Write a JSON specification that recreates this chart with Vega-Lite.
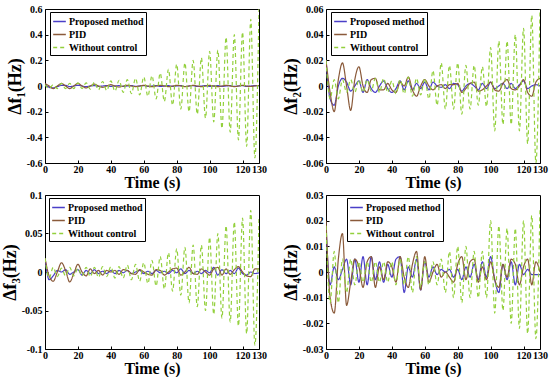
{
"$schema":"https://vega.github.io/schema/vega-lite/v6.json",
"padding":{"left":0,"top":3,"right":4,"bottom":0},
"background":"white",
"datasets":{
"f1":[
{"t":0,"P":0.01,"I":0.02,"W":0.01},{"t":2.5,"P":-0.01,"I":0,"W":-0.02},{"t":5,"P":-0.015,"I":-0.02,"W":0.01},{"t":7.5,"P":-0.005,"I":0,"W":-0.02},
{"t":10,"P":0.005,"I":0.02,"W":0.02},{"t":12.5,"P":0.005,"I":0,"W":-0.02},{"t":15,"P":-0.005,"I":-0.02,"W":0.02},{"t":17.5,"P":0,"I":0,"W":-0.02},
{"t":20,"P":0.005,"I":0.02,"W":0.025},{"t":22.5,"P":0,"I":0,"W":-0.02},{"t":25,"P":-0.005,"I":-0.015,"W":0.025},{"t":27.5,"P":0,"I":0,"W":-0.025},
{"t":30,"P":0.003,"I":0.015,"W":0.03},{"t":32.5,"P":-0.003,"I":0,"W":-0.03},{"t":35,"P":0,"I":-0.01,"W":0.035},{"t":37.5,"P":0.003,"I":0,"W":-0.035},
{"t":40,"P":-0.003,"I":0.01,"W":0.04},{"t":42.5,"P":0,"I":0,"W":-0.04},{"t":45,"P":0.003,"I":-0.008,"W":0.045},{"t":47.5,"P":-0.003,"I":0,"W":-0.05},
{"t":50,"P":0,"I":0.006,"W":0.05},{"t":52.5,"P":0.003,"I":0,"W":-0.06},{"t":55,"P":-0.003,"I":-0.005,"W":0.06},{"t":57.5,"P":0,"I":0,"W":-0.07},
{"t":60,"P":0.003,"I":0.005,"W":0.07},{"t":62.5,"P":-0.003,"I":0,"W":-0.08},{"t":65,"P":0,"I":-0.005,"W":0.08},{"t":67.5,"P":0.003,"I":0,"W":-0.1},
{"t":70,"P":-0.003,"I":0.005,"W":0.1},{"t":72.5,"P":0,"I":0,"W":-0.12},{"t":75,"P":0.003,"I":-0.005,"W":0.13},{"t":77.5,"P":-0.003,"I":0,"W":-0.15},
{"t":80,"P":0,"I":0.005,"W":0.17},{"t":82.5,"P":0.003,"I":0,"W":-0.18},{"t":85,"P":-0.004,"I":-0.005,"W":0.18},{"t":87.5,"P":0,"I":0,"W":-0.2},
{"t":90,"P":0.003,"I":0.005,"W":0.2},{"t":92.5,"P":-0.003,"I":0,"W":-0.22},{"t":95,"P":0,"I":-0.005,"W":0.22},{"t":97.5,"P":0.003,"I":0,"W":-0.25},
{"t":100,"P":-0.003,"I":0.005,"W":0.27},{"t":102.5,"P":0,"I":0,"W":-0.28},{"t":105,"P":0.003,"I":-0.005,"W":0.28},{"t":107.5,"P":-0.003,"I":0,"W":-0.33},
{"t":110,"P":0,"I":0.005,"W":0.38},{"t":112.5,"P":0.003,"I":0,"W":-0.36},{"t":115,"P":-0.003,"I":-0.005,"W":0.4},{"t":117.5,"P":0,"I":0,"W":-0.42},
{"t":120,"P":0.003,"I":0.005,"W":0.42},{"t":122.5,"P":-0.003,"I":0,"W":-0.47},{"t":125,"P":0,"I":-0.004,"W":0.52},{"t":127.5,"P":0.003,"I":0,"W":-0.56},
{"t":130,"P":0,"I":0.004,"W":0.6}
],
"f2":[
{"t":0,"P":0.02,"I":0.02,"W":0.02},{"t":2.5,"P":-0.01,"I":-0.005,"W":-0.01},{"t":5,"P":-0.015,"I":-0.02,"W":0.005},{"t":7.5,"P":0,"I":0.005,"W":-0.01},
{"t":10,"P":0.006,"I":0.018,"W":0.005},{"t":12.5,"P":0.003,"I":0,"W":-0.005},{"t":15,"P":-0.004,"I":-0.019,"W":0.005},{"t":17.5,"P":0,"I":0.005,"W":-0.005},
{"t":20,"P":0.004,"I":0.015,"W":0.005},{"t":22.5,"P":-0.005,"I":0,"W":-0.005},{"t":25,"P":0.005,"I":-0.005,"W":0.005},{"t":27.5,"P":-0.002,"I":0.005,"W":-0.004},
{"t":30,"P":-0.005,"I":0.006,"W":0.006},{"t":32.5,"P":0,"I":-0.003,"W":-0.005},{"t":35,"P":0.004,"I":-0.003,"W":0.006},{"t":37.5,"P":-0.002,"I":0.002,"W":-0.005},
{"t":40,"P":-0.005,"I":-0.003,"W":0.004},{"t":42.5,"P":-0.002,"I":-0.005,"W":-0.006},{"t":45,"P":0.004,"I":0.003,"W":0.005},{"t":47.5,"P":-0.003,"I":0,"W":-0.006},
{"t":50,"P":0.004,"I":0.007,"W":0.007},{"t":52.5,"P":-0.003,"I":-0.003,"W":-0.008},{"t":55,"P":0.002,"I":-0.008,"W":0.006},{"t":57.5,"P":-0.002,"I":0,"W":-0.007},
{"t":60,"P":0.003,"I":0.005,"W":0.006},{"t":62.5,"P":-0.003,"I":0,"W":-0.01},{"t":65,"P":0.003,"I":-0.003,"W":0.012},{"t":67.5,"P":0,"I":0,"W":-0.015},
{"t":70,"P":-0.001,"I":0.001,"W":0.018},{"t":72.5,"P":0.001,"I":-0.002,"W":-0.018},{"t":75,"P":-0.002,"I":0.001,"W":0.016},{"t":77.5,"P":0.002,"I":0.001,"W":-0.018},
{"t":80,"P":0.001,"I":0.002,"W":0.018},{"t":82.5,"P":-0.004,"I":-0.005,"W":-0.022},{"t":85,"P":0,"I":-0.002,"W":0.016},{"t":87.5,"P":0.002,"I":0.002,"W":-0.018},
{"t":90,"P":0,"I":0.003,"W":0.016},{"t":92.5,"P":-0.003,"I":-0.004,"W":-0.015},{"t":95,"P":0.002,"I":-0.003,"W":0.015},{"t":97.5,"P":-0.002,"I":0,"W":-0.016},
{"t":100,"P":0.003,"I":0.003,"W":0.03},{"t":102.5,"P":-0.002,"I":-0.003,"W":-0.035},{"t":105,"P":0,"I":-0.004,"W":0.035},{"t":107.5,"P":0.002,"I":0.002,"W":-0.03},
{"t":110,"P":-0.002,"I":0.005,"W":0.035},{"t":112.5,"P":0.002,"I":-0.002,"W":-0.03},{"t":115,"P":-0.002,"I":-0.003,"W":0.04},{"t":117.5,"P":0.001,"I":0,"W":-0.035},
{"t":120,"P":0.004,"I":0.005,"W":0.045},{"t":122.5,"P":-0.002,"I":-0.005,"W":-0.045},{"t":125,"P":0,"I":-0.008,"W":0.055},{"t":127.5,"P":0.001,"I":0.003,"W":-0.06},
{"t":130,"P":0,"I":0.006,"W":0.06}
],
"f3":[
{"t":0,"P":0.018,"I":0.018,"W":0.018},{"t":2.5,"P":-0.01,"I":-0.005,"W":-0.008},{"t":5,"P":-0.005,"I":-0.012,"W":0.006},{"t":7.5,"P":0.002,"I":0,"W":-0.006},
{"t":10,"P":0,"I":0.012,"W":0.005},{"t":12.5,"P":0.003,"I":0.002,"W":-0.005},{"t":15,"P":-0.003,"I":-0.013,"W":0.006},{"t":17.5,"P":0,"I":-0.002,"W":-0.005},
{"t":20,"P":0.003,"I":0.01,"W":0.005},{"t":22.5,"P":-0.004,"I":0,"W":-0.005},{"t":25,"P":0.002,"I":-0.005,"W":0.006},{"t":27.5,"P":-0.002,"I":0.004,"W":-0.006},
{"t":30,"P":0.003,"I":-0.002,"W":0.006},{"t":32.5,"P":-0.002,"I":0.002,"W":-0.007},{"t":35,"P":0.001,"I":-0.004,"W":0.007},{"t":37.5,"P":-0.002,"I":0.002,"W":-0.006},
{"t":40,"P":0.002,"I":0,"W":0.007},{"t":42.5,"P":-0.002,"I":0.002,"W":-0.008},{"t":45,"P":0.002,"I":-0.003,"W":0.007},{"t":47.5,"P":-0.001,"I":0.003,"W":-0.008},
{"t":50,"P":0.002,"I":0.002,"W":0.009},{"t":52.5,"P":-0.002,"I":-0.002,"W":-0.01},{"t":55,"P":0,"I":-0.003,"W":0.01},{"t":57.5,"P":0.002,"I":0.003,"W":-0.012},
{"t":60,"P":-0.002,"I":0,"W":0.012},{"t":62.5,"P":0.001,"I":-0.003,"W":-0.015},{"t":65,"P":-0.002,"I":-0.004,"W":0.015},{"t":67.5,"P":0.002,"I":0.003,"W":-0.018},
{"t":70,"P":-0.001,"I":0.002,"W":0.02},{"t":72.5,"P":0.001,"I":-0.004,"W":-0.022},{"t":75,"P":-0.002,"I":0,"W":0.025},{"t":77.5,"P":0.002,"I":0.004,"W":-0.025},
{"t":80,"P":-0.001,"I":0.005,"W":0.03},{"t":82.5,"P":0.004,"I":-0.004,"W":-0.03},{"t":85,"P":-0.002,"I":0,"W":0.032},{"t":87.5,"P":0.002,"I":0.006,"W":-0.04},
{"t":90,"P":-0.002,"I":-0.002,"W":0.035},{"t":92.5,"P":0.001,"I":-0.003,"W":-0.045},{"t":95,"P":-0.002,"I":0.004,"W":0.035},{"t":97.5,"P":0.002,"I":0,"W":-0.05},
{"t":100,"P":-0.001,"I":-0.004,"W":0.045},{"t":102.5,"P":0.006,"I":0.004,"W":-0.055},{"t":105,"P":-0.004,"I":0.006,"W":0.05},{"t":107.5,"P":0.003,"I":-0.004,"W":-0.06},
{"t":110,"P":-0.002,"I":0.004,"W":0.06},{"t":112.5,"P":0.002,"I":-0.003,"W":-0.065},{"t":115,"P":-0.002,"I":0.003,"W":0.065},{"t":117.5,"P":0.005,"I":0.007,"W":-0.07},
{"t":120,"P":-0.002,"I":0,"W":0.07},{"t":122.5,"P":-0.004,"I":-0.005,"W":-0.08},{"t":125,"P":0,"I":-0.006,"W":0.08},{"t":127.5,"P":-0.002,"I":0.004,"W":-0.095},
{"t":130,"P":-0.001,"I":0.004,"W":0.07}
],
"f4":[
{"t":0,"P":0.018,"I":0.02,"W":0.018},{"t":2.5,"P":-0.005,"I":-0.01,"W":-0.012},{"t":5,"P":0.002,"I":-0.016,"W":0.008},{"t":7.5,"P":-0.003,"I":0.005,"W":-0.012},
{"t":10,"P":0.001,"I":0.015,"W":0.005},{"t":12.5,"P":0.005,"I":-0.013,"W":-0.008},{"t":15,"P":-0.005,"I":-0.004,"W":0.005},{"t":17.5,"P":0.005,"I":0.005,"W":-0.005},
{"t":20,"P":-0.004,"I":0.002,"W":0.004},{"t":22.5,"P":0.006,"I":-0.006,"W":-0.004},{"t":25,"P":-0.005,"I":0.004,"W":0.004},{"t":27.5,"P":0.006,"I":0.006,"W":-0.004},
{"t":30,"P":-0.003,"I":-0.006,"W":0.004},{"t":32.5,"P":0.004,"I":0.002,"W":-0.004},{"t":35,"P":-0.004,"I":-0.003,"W":0.004},{"t":37.5,"P":0.003,"I":0.004,"W":-0.004},
{"t":40,"P":-0.002,"I":0.002,"W":0.004},{"t":42.5,"P":0.005,"I":-0.004,"W":-0.005},{"t":45,"P":0.006,"I":0.006,"W":0.005},{"t":47.5,"P":-0.008,"I":-0.002,"W":-0.005},
{"t":50,"P":0.002,"I":-0.006,"W":0.006},{"t":52.5,"P":-0.002,"I":0.003,"W":-0.008},{"t":55,"P":0.005,"I":0.008,"W":0.006},{"t":57.5,"P":-0.007,"I":-0.007,"W":-0.006},
{"t":60,"P":0.004,"I":0.006,"W":0.004},{"t":62.5,"P":-0.002,"I":-0.004,"W":-0.005},{"t":65,"P":0.002,"I":0,"W":0.004},{"t":67.5,"P":-0.001,"I":0.003,"W":-0.005},
{"t":70,"P":0.001,"I":-0.002,"W":0.005},{"t":72.5,"P":0,"I":0,"W":-0.008},{"t":75,"P":0.001,"I":-0.002,"W":0.008},{"t":77.5,"P":-0.002,"I":-0.004,"W":-0.01},
{"t":80,"P":0.001,"I":0.003,"W":0.01},{"t":82.5,"P":-0.003,"I":0.006,"W":-0.012},{"t":85,"P":0.002,"I":-0.003,"W":0.01},{"t":87.5,"P":-0.002,"I":0.004,"W":-0.01},
{"t":90,"P":0.003,"I":0.005,"W":0.008},{"t":92.5,"P":-0.003,"I":-0.004,"W":-0.01},{"t":95,"P":0.004,"I":0.002,"W":0.008},{"t":97.5,"P":-0.002,"I":-0.003,"W":-0.01},
{"t":100,"P":0.006,"I":0.004,"W":0.02},{"t":102.5,"P":-0.003,"I":-0.003,"W":-0.016},{"t":105,"P":-0.008,"I":-0.006,"W":0.018},{"t":107.5,"P":0.003,"I":0.003,"W":-0.015},
{"t":110,"P":-0.003,"I":-0.002,"W":0.017},{"t":112.5,"P":0.004,"I":0.005,"W":-0.02},{"t":115,"P":-0.005,"I":0.003,"W":0.017},{"t":117.5,"P":0.003,"I":-0.005,"W":-0.022},
{"t":120,"P":-0.001,"I":0.002,"W":0.02},{"t":122.5,"P":0.001,"I":0.005,"W":-0.024},{"t":125,"P":-0.001,"I":-0.005,"W":0.022},{"t":127.5,"P":-0.001,"I":0.004,"W":-0.026},
{"t":130,"P":-0.001,"I":0,"W":0.025}
]
},
"columns":2,
"spacing":{"column":14,"row":-2},
"resolve":{"scale":{"color":"independent","strokeDash":"independent"},"legend":{"color":"independent","strokeDash":"independent"}},
"concat":[
{"width":214,"height":154,"data":{"name":"f1"},
 "transform":[{"fold":["P","I","W"],"as":["s","v"]}],
 "mark":{"type":"line","interpolate":"monotone","strokeWidth":1.2,"clip":true},
 "encoding":{
  "x":{"field":"t","type":"quantitative","scale":{"domain":[0,130],"nice":false,"zero":false},"axis":{"values":[0,20,40,60,80,100,120,130],"title":"Time (s)"}},
  "y":{"field":"v","type":"quantitative","scale":{"domain":[-0.6,0.6],"nice":false},"axis":{"values":[-0.6,-0.4,-0.2,0,0.2,0.4,0.6],"title":"Δf₁(Hz)"}},
  "color":{"field":"s","type":"nominal","title":null,"scale":{"domain":["P","I","W"],"range":["#4a3fc8","#8a5a3a","#93d03c"]},"legend":{"legendX":5,"legendY":3,"labelExpr":"datum.label=='P'?'Proposed method':datum.label=='I'?'PID':'Without control'"}},
  "strokeDash":{"field":"s","type":"nominal","title":null,"scale":{"domain":["P","I","W"],"range":[[1,0],[1,0],[4,3]]},"legend":{"legendX":5,"legendY":3,"labelExpr":"datum.label=='P'?'Proposed method':datum.label=='I'?'PID':'Without control'"}}
 }},
{"width":214,"height":154,"data":{"name":"f2"},
 "transform":[{"fold":["P","I","W"],"as":["s","v"]}],
 "mark":{"type":"line","interpolate":"monotone","strokeWidth":1.2,"clip":true},
 "encoding":{
  "x":{"field":"t","type":"quantitative","scale":{"domain":[0,130],"nice":false,"zero":false},"axis":{"values":[0,20,40,60,80,100,120,130],"title":"Time (s)"}},
  "y":{"field":"v","type":"quantitative","scale":{"domain":[-0.06,0.06],"nice":false},"axis":{"values":[-0.06,-0.04,-0.02,0,0.02,0.04,0.06],"title":"Δf₂(Hz)"}},
  "color":{"field":"s","type":"nominal","title":null,"scale":{"domain":["P","I","W"],"range":["#4a3fc8","#8a5a3a","#93d03c"]},"legend":{"legendX":5,"legendY":3,"labelExpr":"datum.label=='P'?'Proposed method':datum.label=='I'?'PID':'Without control'"}},
  "strokeDash":{"field":"s","type":"nominal","title":null,"scale":{"domain":["P","I","W"],"range":[[1,0],[1,0],[4,3]]},"legend":{"legendX":5,"legendY":3,"labelExpr":"datum.label=='P'?'Proposed method':datum.label=='I'?'PID':'Without control'"}}
 }},
{"width":214,"height":154,"data":{"name":"f3"},
 "transform":[{"fold":["P","I","W"],"as":["s","v"]}],
 "mark":{"type":"line","interpolate":"monotone","strokeWidth":1.2,"clip":true},
 "encoding":{
  "x":{"field":"t","type":"quantitative","scale":{"domain":[0,130],"nice":false,"zero":false},"axis":{"values":[0,20,40,60,80,100,120,130],"title":"Time (s)"}},
  "y":{"field":"v","type":"quantitative","scale":{"domain":[-0.1,0.1],"nice":false},"axis":{"values":[-0.1,-0.05,0,0.05,0.1],"title":"Δf₃(Hz)"}},
  "color":{"field":"s","type":"nominal","title":null,"scale":{"domain":["P","I","W"],"range":["#4a3fc8","#8a5a3a","#93d03c"]},"legend":{"legendX":4,"legendY":3,"labelExpr":"datum.label=='P'?'Proposed method':datum.label=='I'?'PID':'Without control'"}},
  "strokeDash":{"field":"s","type":"nominal","title":null,"scale":{"domain":["P","I","W"],"range":[[1,0],[1,0],[4,3]]},"legend":{"legendX":4,"legendY":3,"labelExpr":"datum.label=='P'?'Proposed method':datum.label=='I'?'PID':'Without control'"}}
 }},
{"width":214,"height":154,"data":{"name":"f4"},
 "transform":[{"fold":["P","I","W"],"as":["s","v"]}],
 "mark":{"type":"line","interpolate":"monotone","strokeWidth":1.2,"clip":true},
 "encoding":{
  "x":{"field":"t","type":"quantitative","scale":{"domain":[0,130],"nice":false,"zero":false},"axis":{"values":[0,20,40,60,80,100,120,130],"title":"Time (s)"}},
  "y":{"field":"v","type":"quantitative","scale":{"domain":[-0.03,0.03],"nice":false},"axis":{"values":[-0.03,-0.02,-0.01,0,0.01,0.02,0.03],"title":"Δf₄(Hz)"}},
  "color":{"field":"s","type":"nominal","title":null,"scale":{"domain":["P","I","W"],"range":["#4a3fc8","#8a5a3a","#93d03c"]},"legend":{"legendX":21,"legendY":3,"labelExpr":"datum.label=='P'?'Proposed method':datum.label=='I'?'PID':'Without control'"}},
  "strokeDash":{"field":"s","type":"nominal","title":null,"scale":{"domain":["P","I","W"],"range":[[1,0],[1,0],[4,3]]},"legend":{"legendX":21,"legendY":3,"labelExpr":"datum.label=='P'?'Proposed method':datum.label=='I'?'PID':'Without control'"}}
 }}
],
"config":{
 "font":"Liberation Serif",
 "view":{"stroke":"#000","strokeWidth":1},
 "axis":{"grid":false,"domain":false,"tickColor":"#000","tickSize":-3,"tickWidth":1,"labelPadding":6,
  "labelFont":"Liberation Serif","labelFontWeight":"bold","labelFontSize":10,"labelColor":"#000",
  "titleFont":"Liberation Serif","titleFontWeight":"bold","titleFontSize":16,"titleColor":"#000",
  "labelOverlap":false,"labelFlush":false,"labelExpr":"'' + datum.value"},
 "axisY":{"titleFontSize":18,"titlePadding":2},
 "axisX":{"titlePadding":0,"labelPadding":4},
 "legend":{"orient":"none","strokeColor":"#000","fillColor":"#fff","padding":2,"cornerRadius":0,
  "labelFont":"Liberation Serif","labelFontWeight":"bold","labelFontSize":10,"labelColor":"#000","labelOffset":2,
  "symbolType":"stroke","symbolSize":160,"symbolStrokeWidth":1.5,"rowPadding":0}
}
}
